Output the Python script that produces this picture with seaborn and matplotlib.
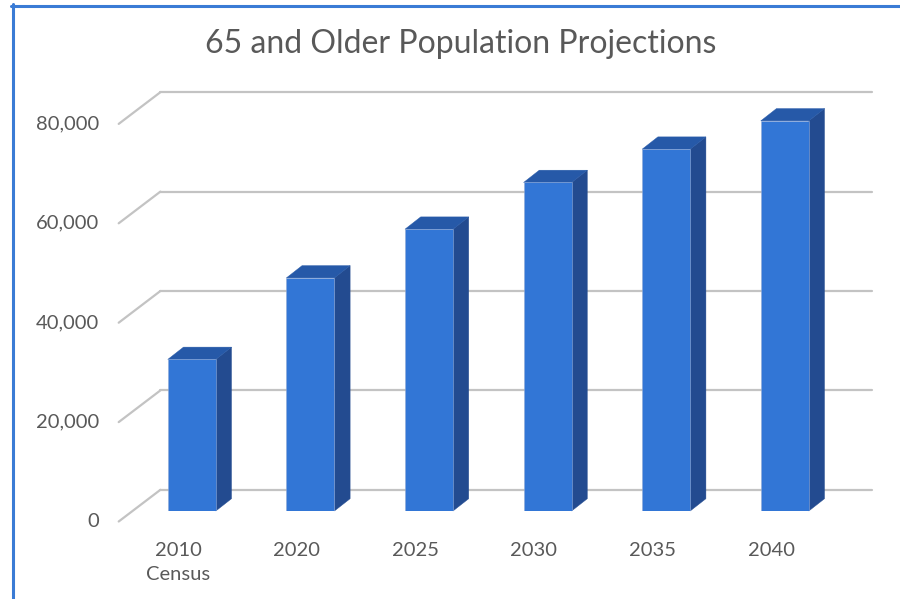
import matplotlib
matplotlib.use("Agg")
import matplotlib.pyplot as plt
from matplotlib.patches import Polygon
from matplotlib.lines import Line2D
import seaborn as sns

categories = ["2010\nCensus", "2020", "2025", "2030", "2035", "2040"]
values = [30500, 46900, 56700, 66100, 72800, 78500]
yticks = [0, 20000, 40000, 60000, 80000]
ytick_labels = ["0", "20,000", "40,000", "60,000", "80,000"]
title = "65 and Older Population Projections"

FRONT = "#3276D6"
SIDE = "#234B90"
TOP = "#2659A8"
GRID = "#C3C3C3"
TEXT = "#595959"
FRAME = "#3A7BD5"

sns.set_theme(style="white")
plt.rcParams["font.family"] = ["Lato", "DejaVu Sans"]

fig = plt.figure(figsize=(9, 5.99), dpi=100)
ax = fig.add_axes([0.14722, 0.14691, 0.79067, 0.70526])
ymax = 85000
n = len(categories)

# pixel -> data conversions
px_x = n / 711.6
px_y = ymax / 422.45
side_dx, side_dy = 15.7 * px_x, 12.3 * px_y
back_dx, back_dy = 27.9 * px_x, 21.2 * px_y
front_dx, front_dy = -13.8 * px_x, -10.5 * px_y

# back wall gridlines + floor diagonals
for v in yticks:
    ax.add_line(Line2D([-0.5 + back_dx, n - 0.5 + back_dx], [v + back_dy, v + back_dy],
                       color=GRID, lw=1.6, clip_on=False, zorder=0))
    ax.add_line(Line2D([-0.5 + front_dx, -0.5 + back_dx], [v + front_dy, v + back_dy],
                       color=GRID, lw=1.6, clip_on=False, zorder=0))

sns.barplot(x=categories, y=values, color=FRONT, saturation=1, width=0.405, ax=ax,
            zorder=3, edgecolor="#8FA9D6", linewidth=0.4)

for p in ax.patches:
    x0, w, h = p.get_x(), p.get_width(), p.get_height()
    x1 = x0 + w
    side = Polygon([(x1, 0), (x1 + side_dx, side_dy), (x1 + side_dx, h + side_dy), (x1, h)],
                   closed=True, facecolor=SIDE, edgecolor=SIDE, lw=0.3, clip_on=False, zorder=2)
    top = Polygon([(x0, h), (x0 + side_dx, h + side_dy), (x1 + side_dx, h + side_dy), (x1, h)],
                  closed=True, facecolor=TOP, edgecolor=TOP, lw=0.3, clip_on=False, zorder=2)
    ax.add_patch(side)
    ax.add_patch(top)

ax.set_xlim(-0.5, n - 0.5)
ax.set_ylim(0, ymax)
ax.axis("off")

# value axis labels on front plane
for v, lab in zip(yticks, ytick_labels):
    ax.text(-0.5 + front_dx - 19.3 * px_x, v + front_dy, lab, ha="right", va="center",
            fontsize=14.5, color=TEXT, clip_on=False)

# category labels
for i, lab in enumerate(categories):
    ax.text(i + front_dx, -31.0 * px_y, lab, ha="center", va="top", fontsize=14.5,
            color=TEXT, linespacing=1.5, clip_on=False)

fig.text(0.5122, 0.9265, title, ha="center", va="center", fontsize=23, color=TEXT)

# frame
fig.add_artist(Line2D([12.5 / 900, 12.5 / 900], [0, 1 - 4 / 599], color=FRAME, lw=2.2,
                      transform=fig.transFigure))
fig.add_artist(Line2D([11 / 900, 1], [1 - 5.5 / 599, 1 - 5.5 / 599], color=FRAME, lw=2.2,
                      transform=fig.transFigure))

fig.savefig("out.png", dpi=100)
